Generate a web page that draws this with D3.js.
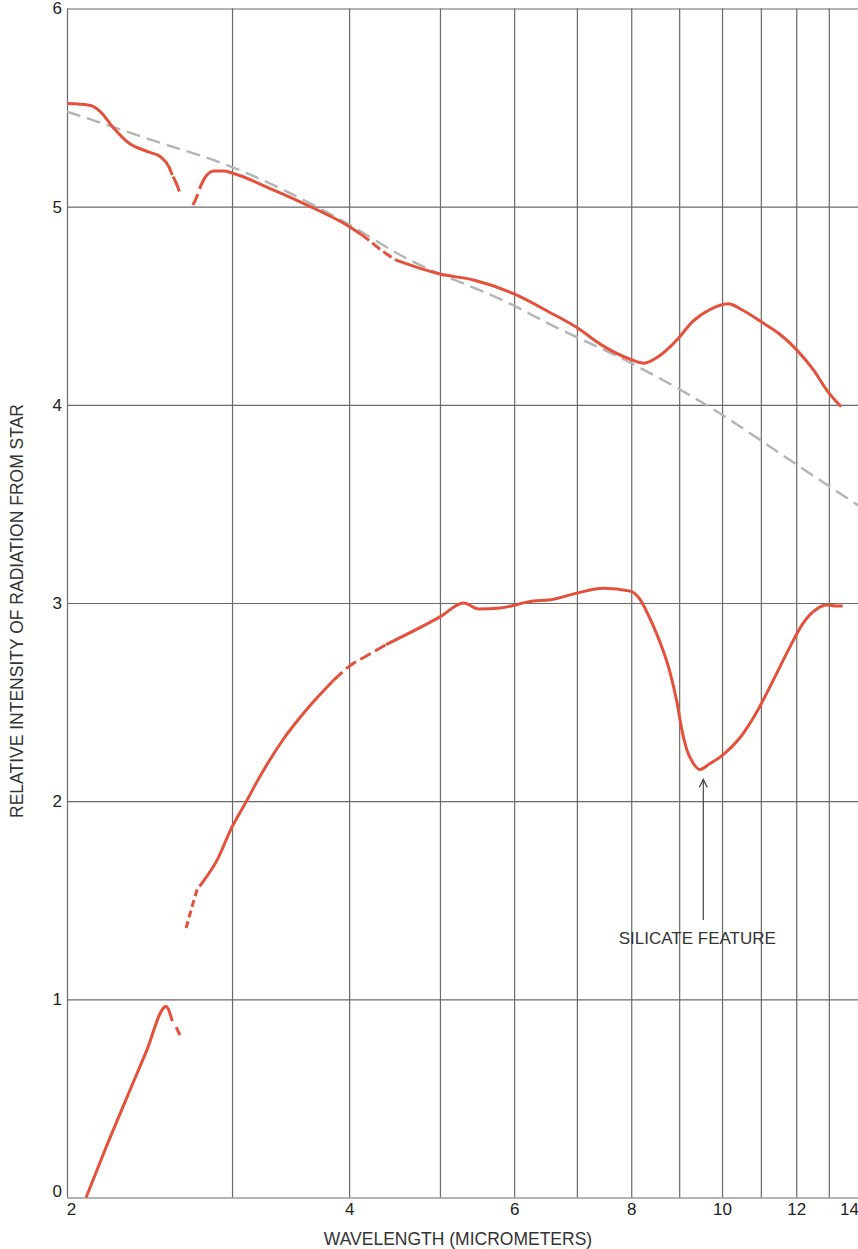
<!DOCTYPE html>
<html>
<head>
<meta charset="utf-8">
<script src="https://cdn.jsdelivr.net/npm/d3@7"></script>
<style>
  html, body { margin: 0; padding: 0; background: #fff; }
  svg { display: block; font-family: "Liberation Sans", Arial, sans-serif; }
</style>
</head>
<body>
<div id="chart"></div>
<script>
// Axis ticks
const gridX = [2, 3, 4, 5, 6, 7, 8, 9, 10, 11, 12, 13, 14];
const labelX = [2, 4, 6, 8, 10, 12, 14];
const ticksY = [0, 1, 2, 3, 4, 5, 6];

// Blackbody reference (gray dashed)
const blackbody = [[2, 5.48], [2.45, 5.34], [3, 5.20], [4, 4.91], [4.52, 4.76], [6, 4.50],
  [6.53, 4.41], [8, 4.21], [10, 3.95], [11, 3.82], [13, 3.59], [14, 3.49]];

// Upper spectrum
const upperA = [[2.0, 5.52], [2.12, 5.51], [2.17, 5.48], [2.24, 5.40], [2.33, 5.32], [2.43, 5.28],
  [2.52, 5.25], [2.57, 5.20], [2.59, 5.16]];
const upperDip = [[2.59, 5.16], [2.615, 5.12], [2.64, 5.07], [2.69, 4.99], [2.74, 5.03], [2.77, 5.09]];
const upperB = [[2.77, 5.09], [2.81, 5.15], [2.87, 5.18], [2.94, 5.18], [3.0, 5.17], [3.3, 5.09],
  [3.6, 5.01], [4.0, 4.90], [4.12, 4.86]];
const upperGap = [[4.12, 4.86], [4.2, 4.83], [4.33, 4.78], [4.49, 4.73]];
const upperC = [[4.49, 4.73], [5.0, 4.66], [5.43, 4.63], [6.0, 4.56], [6.53, 4.47], [7.0, 4.39],
  [7.45, 4.30], [7.98, 4.23], [8.26, 4.21], [8.53, 4.24], [8.96, 4.33], [9.3, 4.42], [9.7, 4.48],
  [10.15, 4.51], [10.5, 4.48], [11.0, 4.42], [11.5, 4.36], [12.0, 4.28], [12.5, 4.18], [13.0, 4.06],
  [13.4, 3.99]];

// Middle spectrum (silicate feature)
const middleStart = [[2.68, 1.36], [2.72, 1.47], [2.76, 1.57]];
const middleA = [[2.77, 1.57], [2.79, 1.59], [2.89, 1.70], [3.0, 1.87], [3.1, 1.99], [3.2, 2.11],
  [3.4, 2.31], [3.6, 2.46], [3.85, 2.61]];
const middleGap = [[3.85, 2.61], [4.0, 2.68], [4.2, 2.74], [4.38, 2.79]];
const middleB = [[4.38, 2.79], [5.0, 2.93], [5.3, 3.0], [5.5, 2.97], [5.8, 2.975], [6.29, 3.01],
  [6.53, 3.015], [7.0, 3.05], [7.47, 3.075], [7.98, 3.06], [8.17, 3.02], [8.38, 2.92], [8.59, 2.80],
  [8.8, 2.65], [8.95, 2.50], [9.06, 2.36], [9.17, 2.26], [9.32, 2.19], [9.47, 2.16], [9.71, 2.19],
  [10.03, 2.235], [10.45, 2.32], [10.89, 2.45], [11.34, 2.61], [11.82, 2.78], [12.21, 2.90],
  [12.62, 2.97], [12.93, 2.99], [13.25, 2.985], [13.45, 2.985]];

// Lower spectrum
const lowerA = [[2.096, 0], [2.201, 0.252], [2.312, 0.494], [2.428, 0.732], [2.551, 0.964], [2.59, 0.89]];
const lowerEnd = [[2.615, 0.86], [2.64, 0.82]];

// Annotation
const silicate = { x: 9.55, yTip: 2.11, yTail: 1.40, label: "SILICATE FEATURE", yLabel: 1.28 };

const width = 858;
const height = 1249;
const margin = { top: 8.5, left: 67, bottom: 1197.5, right: 859 };

const svg = d3.select("#chart")
  .append("svg")
  .attr("width", width)
  .attr("height", height)
  .style("overflow", "hidden");

const x = d3.scaleLog()
  .domain([2, 14])
  .range([margin.left, margin.right]);

const y = d3.scaleLinear()
  .domain([0, 6])
  .range([margin.bottom, margin.top]);

const red = "#e4503a";

// Gridlines
svg.append("g")
  .attr("transform", `translate(0,${margin.bottom})`)
  .call(d3.axisBottom(x).tickValues(gridX).tickSize(-(margin.bottom - margin.top)).tickFormat(""))
  .call(g => g.select(".domain").remove())
  .call(g => g.selectAll("line").attr("stroke", "#6a6a6a").attr("stroke-width", 1.2));

svg.append("g")
  .attr("transform", `translate(${margin.left},0)`)
  .call(d3.axisLeft(y).tickValues(ticksY).tickSize(-(margin.right - margin.left)).tickFormat(""))
  .call(g => g.select(".domain").remove())
  .call(g => g.selectAll("line").attr("stroke", "#6a6a6a").attr("stroke-width", 1.2));

// Tick labels
svg.append("g")
  .attr("transform", `translate(0,${margin.bottom})`)
  .call(d3.axisBottom(x).tickValues(labelX).tickSize(0).tickFormat(d3.format("d")))
  .call(g => g.select(".domain").remove())
  .call(g => g.selectAll("text")
    .attr("y", 5.5)
    .attr("dy", "0.71em")
    .attr("dx", d => d === 2 ? 4 : d === 14 ? -10 : 0)
    .style("font-size", "17px")
    .style("font-family", "Liberation Sans, Arial, sans-serif")
    .attr("fill", "#222"));

svg.append("g")
  .attr("transform", `translate(${margin.left},0)`)
  .call(d3.axisLeft(y).tickValues(ticksY).tickSize(0).tickFormat(d3.format("d")))
  .call(g => g.select(".domain").remove())
  .call(g => g.selectAll("text")
    .attr("x", -5)
    .attr("dy", d => d === 0 ? "-0.05em" : "0.32em")
    .style("font-size", "17px")
    .style("font-family", "Liberation Sans, Arial, sans-serif")
    .attr("fill", "#222"));

// Axis titles
svg.append("text")
  .attr("x", 458)
  .attr("y", 1245)
  .attr("text-anchor", "middle")
  .attr("font-size", "17.5px")
  .attr("fill", "#333")
  .text("WAVELENGTH (MICROMETERS)");

svg.append("text")
  .attr("transform", "translate(23,611) rotate(-90)")
  .attr("text-anchor", "middle")
  .attr("font-size", "17.5px")
  .attr("fill", "#333")
  .text("RELATIVE INTENSITY OF RADIATION FROM STAR");

const smooth = d3.line()
  .x(d => x(d[0]))
  .y(d => y(d[1]))
  .curve(d3.curveMonotoneX);

const straight = d3.line()
  .x(d => x(d[0]))
  .y(d => y(d[1]));

// Blackbody curve
svg.append("path")
  .attr("d", smooth(blackbody))
  .attr("fill", "none")
  .attr("stroke", "#b4b4b4")
  .attr("stroke-width", 2.4)
  .attr("stroke-dasharray", "14,7");

// Spectra
const segments = [
  { data: upperA, dash: null, line: smooth },
  { data: upperDip, dash: "0,2,16,26,12,40", line: smooth },
  { data: upperB, dash: null, line: smooth },
  { data: upperGap, dash: "10,4", line: smooth },
  { data: upperC, dash: null, line: smooth },
  { data: middleStart, dash: "7,4", line: straight },
  { data: middleA, dash: null, line: smooth },
  { data: middleGap, dash: "12,5", line: smooth },
  { data: middleB, dash: null, line: smooth },
  { data: lowerA, dash: null, line: smooth },
  { data: lowerEnd, dash: null, line: straight }
];

svg.append("g")
  .selectAll("path")
  .data(segments)
  .join("path")
  .attr("d", d => d.line(d.data))
  .attr("fill", "none")
  .attr("stroke", red)
  .attr("stroke-width", 3)
  .attr("stroke-linejoin", "round")
  .attr("stroke-dasharray", d => d.dash);

// Silicate feature arrow
const ax = x(silicate.x);
const tipY = y(silicate.yTip);
svg.append("line")
  .attr("x1", ax).attr("x2", ax)
  .attr("y1", y(silicate.yTail)).attr("y2", tipY)
  .attr("stroke", "#444")
  .attr("stroke-width", 1.2);

svg.append("path")
  .attr("d", `M${ax - 4},${tipY + 8}L${ax},${tipY}L${ax + 4},${tipY + 8}`)
  .attr("fill", "none")
  .attr("stroke", "#444")
  .attr("stroke-width", 1.2);

svg.append("text")
  .attr("x", ax - 6)
  .attr("y", y(silicate.yLabel))
  .attr("text-anchor", "middle")
  .attr("font-size", "17px")
  .attr("fill", "#333")
  .text(silicate.label);
</script>
</body>
</html>
